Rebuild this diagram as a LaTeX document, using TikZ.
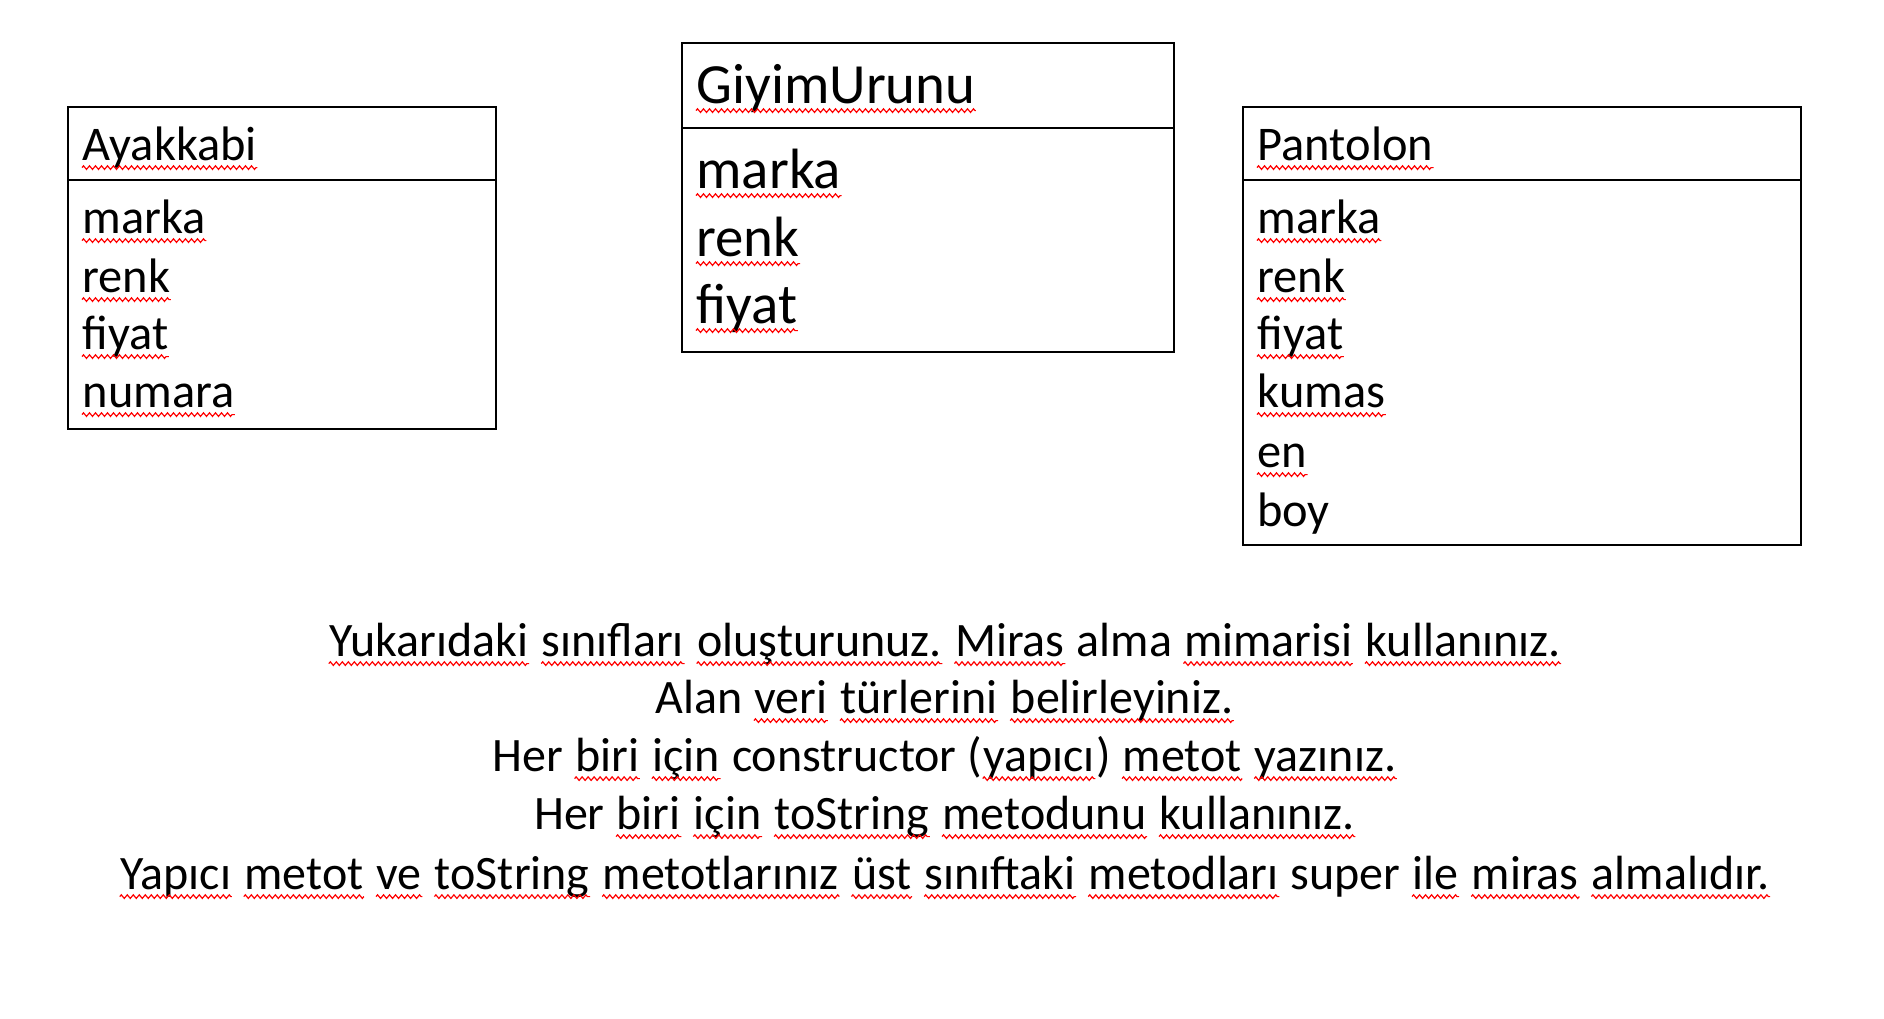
\documentclass[tikz,border=0pt]{standalone}
\usepackage{fontspec}
\setmainfont{Carlito}
\usetikzlibrary{decorations.pathmorphing}
\newcommand\wv[1]{\tikz[baseline=0pt,x=1pt,y=1pt,line width=0.6pt]{\node[anchor=base west,inner sep=0pt] (wv) at (0,0) {#1};
	\draw[red,decorate,decoration={zigzag,segment length=3pt,amplitude=0.9pt}] ([yshift=-3.8pt]wv.base west) -- ([yshift=-3.8pt]wv.base east);}}
\tikzset{
	fld/.style={anchor=base west,inner sep=0pt,font=\fontsize{24.2}{29}\selectfont},
	bigfld/.style={fld,font=\fontsize{28.4}{34}\selectfont},
	task/.style={anchor=base,inner sep=0pt,font=\fontsize{24.0}{29}\selectfont},
}
\begin{document}
\begin{tikzpicture}[x=0.5pt,y=-0.5pt,line width=1pt]
		\useasboundingbox (0,0) rectangle (1884,1018);
		% Ayakkabi
		\draw (68,107) rectangle (496,429);
		\draw (68,180) -- (496,180);
		\node[fld] (a0) at (81,160) {\wv{Ayakkabi}};
		\node[fld] (a1) at (81,233) {\wv{marka}};
		\node[fld] (a2) at (81,292) {\wv{renk}};
		\node[fld] (a3) at (81,349) {\wv{fiyat}};
		\node[fld] (a4) at (81,407) {\wv{numara}};
		% GiyimUrunu
		\draw (682,43) rectangle (1174,352);
		\draw (682,128) -- (1174,128);
		\node[bigfld] (g0) at (695,103) {\wv{GiyimUrunu}};
		\node[bigfld] (g1) at (695,188) {\wv{marka}};
		\node[bigfld] (g2) at (695,256) {\wv{renk}};
		\node[bigfld] (g3) at (695,323) {\wv{fiyat}};
		% Pantolon
		\draw (1243,107) rectangle (1801,545);
		\draw (1243,180) -- (1801,180);
		\node[fld] (p0) at (1256,160) {\wv{Pantolon}};
		\node[fld] (p1) at (1256,233) {\wv{marka}};
		\node[fld] (p2) at (1256,292) {\wv{renk}};
		\node[fld] (p3) at (1256,349) {\wv{fiyat}};
		\node[fld] (p4) at (1256,407) {\wv{kumas}};
		\node[fld] (p5) at (1256,467) {\wv{en}};
		\node[fld] (p6) at (1256,526) {boy};
		% task text
		\node[task] (t1) at (945,656) {\wv{Yukarıdaki} \wv{sınıfları} \wv{oluşturunuz.} \wv{Miras} alma \wv{mimarisi} \wv{kullanınız.}};
		\node[task] (t2) at (945,713) {Alan \wv{veri} \wv{türlerini} \wv{belirleyiniz.}};
		\node[task] (t3) at (945,771) {Her \wv{biri} \wv{için} constructor (\wv{yapıcı}) \wv{metot} \wv{yazınız.}};
		\node[task] (t4) at (945,829) {Her \wv{biri} \wv{için} \wv{toString} \wv{metodunu} \wv{kullanınız.}};
		\node[task] (t5) at (945,889) {\wv{Yapıcı} \wv{metot} \wv{ve} \wv{toString} \wv{metotlarınız} \wv{üst} \wv{sınıftaki} \wv{metodları} super \wv{ile} \wv{miras} \wv{almalıdır.}};
	\end{tikzpicture}
\end{document}
